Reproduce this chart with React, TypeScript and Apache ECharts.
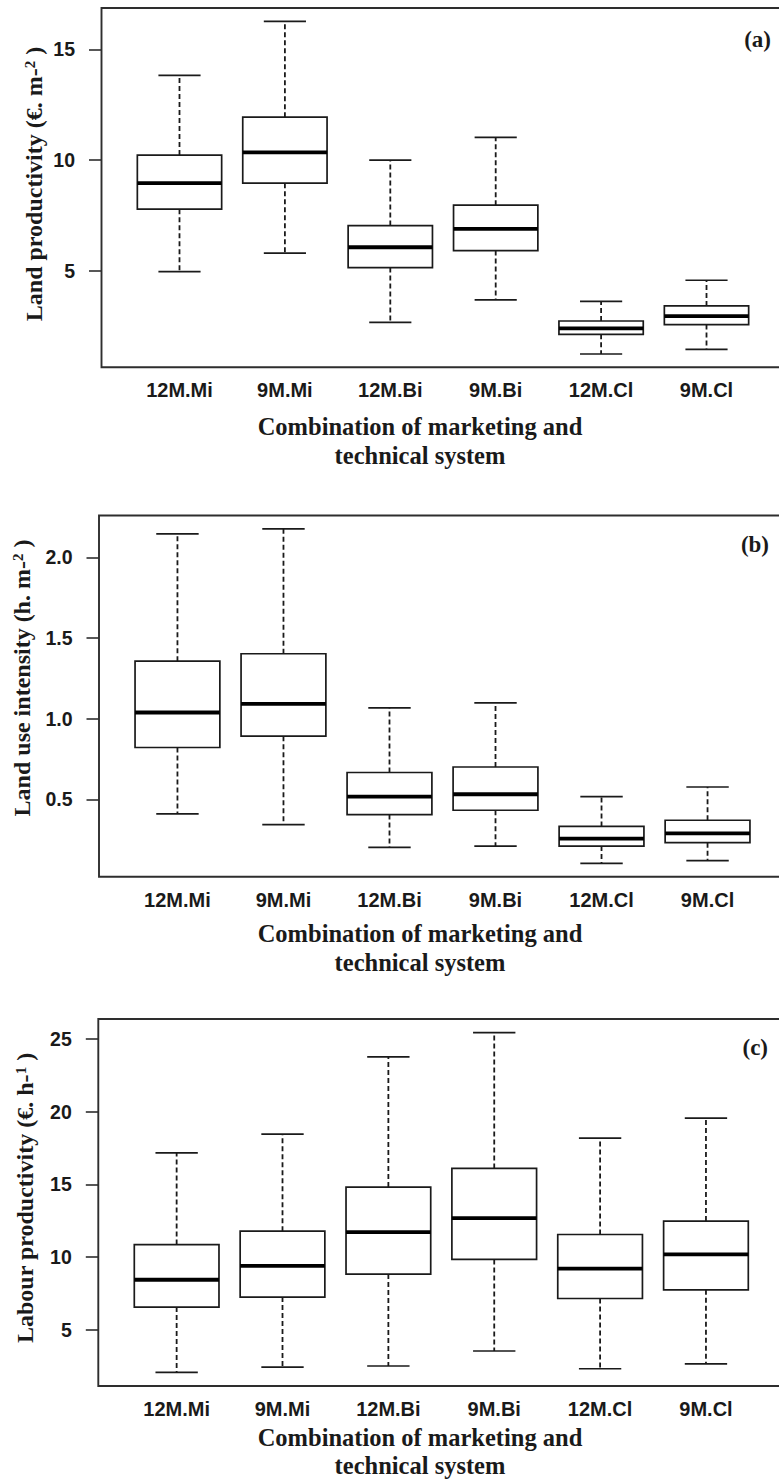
import React, { useEffect, useRef } from 'react';
import * as echarts from 'echarts';

const categories = ['12M.Mi', '9M.Mi', '12M.Bi', '9M.Bi', '12M.Cl', '9M.Cl'];

// each row: [lower whisker, Q1, median, Q3, upper whisker]
const landProductivity = [
  [4.97, 7.79, 8.96, 10.23, 13.83],
  [5.8, 8.96, 10.35, 11.94, 16.27],
  [2.68, 5.15, 6.07, 7.05, 10.0],
  [3.69, 5.92, 6.9, 7.97, 11.03],
  [1.25, 2.14, 2.41, 2.74, 3.63],
  [1.46, 2.58, 2.96, 3.42, 4.58],
];
const landUseIntensity = [
  [0.409, 0.821, 1.038, 1.356, 2.145],
  [0.343, 0.891, 1.091, 1.402, 2.176],
  [0.202, 0.405, 0.517, 0.666, 1.067],
  [0.21, 0.432, 0.531, 0.7, 1.098],
  [0.103, 0.21, 0.256, 0.332, 0.517],
  [0.12, 0.231, 0.289, 0.37, 0.576],
];
const labourProductivity = [
  [2.07, 6.56, 8.44, 10.86, 17.16],
  [2.44, 7.25, 9.4, 11.78, 18.45],
  [2.51, 8.83, 11.71, 14.81, 23.76],
  [3.54, 9.84, 12.68, 16.09, 25.43],
  [2.32, 7.15, 9.21, 11.55, 18.18],
  [2.66, 7.75, 10.18, 12.47, 19.55],
];

const ticksA = [5, 10, 15];
const ticksB = [0.5, 1.0, 1.5, 2.0];
const ticksC = [5, 10, 15, 20, 25];

const xTitle1 = 'Combination of marketing and';
const xTitle2 = 'technical system';

const INK = '#1a1a1a';
const SERIF = '"Liberation Serif", "Times New Roman", serif';
const SANS = '"Liberation Sans", Arial, sans-serif';

const panels = [
  {
    data: landProductivity, ticks: ticksA, decimals: 0,
    grid: { left: 101.5, top: 8, width: 683, height: 359.3 },
    yTitle: 'Land productivity (€. m-{sup|2} )', yTitlePos: [34, 184],
    xTitleY: [426, 455], tag: '(a)', tagPos: [771, 39],
  },
  {
    data: landUseIntensity, ticks: ticksB, decimals: 1,
    grid: { left: 99, top: 515.5, width: 687, height: 361.2 },
    yTitle: 'Land use intensity (h. m-{sup|2} )', yTitlePos: [22, 678],
    xTitleY: [933, 962], tag: '(b)', tagPos: [769, 544],
  },
  {
    data: labourProductivity, ticks: ticksC, decimals: 0,
    grid: { left: 98.3, top: 1019, width: 686, height: 367 },
    yTitle: 'Labour productivity (€. h-{sup|1} )', yTitlePos: [25, 1198],
    xTitleY: [1437, 1465], tag: '(c)', tagPos: [768, 1047],
  },
];

function renderBox(params: any, api: any) {
  const x = api.value(0);
  const lo = api.coord([x, api.value(1)]);
  const q1 = api.coord([x, api.value(2)]);
  const med = api.coord([x, api.value(3)]);
  const q3 = api.coord([x, api.value(4)]);
  const hi = api.coord([x, api.value(5)]);
  const half = api.size([0.8, 0])[0] / 2;
  const capHalf = half / 2;
  const cx = lo[0];
  const dash = { stroke: INK, lineWidth: 1.8, lineDash: [5, 3] };
  const solid = { stroke: INK, lineWidth: 1.7 };
  return {
    type: 'group',
    children: [
      { type: 'line', shape: { x1: cx, y1: q3[1], x2: cx, y2: hi[1] }, style: dash },
      { type: 'line', shape: { x1: cx, y1: q1[1], x2: cx, y2: lo[1] }, style: dash },
      { type: 'line', shape: { x1: cx - capHalf, y1: hi[1], x2: cx + capHalf, y2: hi[1] }, style: solid },
      { type: 'line', shape: { x1: cx - capHalf, y1: lo[1], x2: cx + capHalf, y2: lo[1] }, style: solid },
      {
        type: 'rect',
        shape: { x: cx - half, y: q3[1], width: half * 2, height: q1[1] - q3[1] },
        style: { fill: '#ffffff', stroke: INK, lineWidth: 1.7 },
      },
      { type: 'line', shape: { x1: cx - half, y1: med[1], x2: cx + half, y2: med[1] }, style: { stroke: '#000', lineWidth: 3.8 } },
    ],
  };
}

export default function App() {
  const ref = useRef<HTMLDivElement>(null);

  useEffect(() => {
    if (!ref.current) return;
    const chart = echarts.init(ref.current, null, { renderer: 'svg' });

    const n = categories.length;
    const xLo = 0.5, xHi = n + 0.5;
    const xExt = 0.04 * (xHi - xLo);

    const grids: any[] = [];
    const xAxes: any[] = [];
    const yAxes: any[] = [];
    const series: any[] = [];
    const graphics: any[] = [];

    panels.forEach((p, i) => {
      const all = p.data.flat();
      const mn = Math.min(...all);
      const mx = Math.max(...all);
      const ext = 0.04 * (mx - mn);
      grids.push({
        ...p.grid,
        show: true,
        borderColor: '#2e2e2e',
        borderWidth: 1.9,
        backgroundColor: 'transparent',
        containLabel: false,
        outerBoundsMode: 'none',
      });
      xAxes.push({
        type: 'value',
        gridIndex: i,
        min: xLo - xExt,
        max: xHi + xExt,
        axisLine: { show: false },
        axisTick: { show: false },
        splitLine: { show: false },
        axisLabel: {
          customValues: categories.map((_, k) => k + 1),
          formatter: (v: number) => categories[Math.round(v) - 1] ?? '',
          fontFamily: SANS,
          fontWeight: 'bold',
          fontSize: 20,
          color: INK,
          margin: 13,
        },
      });
      yAxes.push({
        type: 'value',
        gridIndex: i,
        min: mn - ext,
        max: mx + ext,
        axisLine: { show: false },
        splitLine: { show: false },
        axisTick: {
          show: true,
          length: 12.5,
          customValues: p.ticks,
          lineStyle: { color: '#2e2e2e', width: 1.6 },
        },
        axisLabel: {
          customValues: p.ticks,
          formatter: (v: number) => v.toFixed(p.decimals),
          fontFamily: SANS,
          fontWeight: 'bold',
          fontSize: 19.5,
          color: INK,
          margin: 26.5,
        },
      });
      series.push({
        type: 'custom',
        xAxisIndex: i,
        yAxisIndex: i,
        renderItem: renderBox,
        encode: { x: 0, y: [1, 2, 3, 4, 5] },
        data: p.data.map((row, k) => [k + 1, ...row]),
        silent: true,
      });
      graphics.push({
        type: 'text',
        x: p.yTitlePos[0],
        y: p.yTitlePos[1],
        rotation: Math.PI / 2,
        style: {
          text: p.yTitle,
          fontFamily: SERIF,
          fontWeight: 'bold',
          fontSize: 24,
          fill: INK,
          align: 'center',
          verticalAlign: 'middle',
          rich: {
            sup: { fontFamily: SERIF, fontWeight: 'bold', fontSize: 15, verticalAlign: 'top', fill: INK },
          },
        },
      });
      graphics.push({
        type: 'text', x: 420, y: p.xTitleY[0],
        style: { text: xTitle1, fontFamily: SERIF, fontWeight: 'bold', fontSize: 24.5, fill: INK, align: 'center', verticalAlign: 'middle' },
      });
      graphics.push({
        type: 'text', x: 420, y: p.xTitleY[1],
        style: { text: xTitle2, fontFamily: SERIF, fontWeight: 'bold', fontSize: 24.5, fill: INK, align: 'center', verticalAlign: 'middle' },
      });
      graphics.push({
        type: 'text', x: p.tagPos[0], y: p.tagPos[1],
        style: { text: p.tag, fontFamily: SERIF, fontWeight: 'bold', fontSize: 23, fill: INK, align: 'right', verticalAlign: 'middle' },
      });
    });

    chart.setOption({
      animation: false,
      backgroundColor: '#ffffff',
      grid: grids,
      xAxis: xAxes,
      yAxis: yAxes,
      series,
      graphic: graphics,
    });

    return () => chart.dispose();
  }, []);

  return (
    <div
      ref={ref}
      style={{ position: 'absolute', left: 0, top: 0, width: 779, height: 1479 }}
    />
  );
}
